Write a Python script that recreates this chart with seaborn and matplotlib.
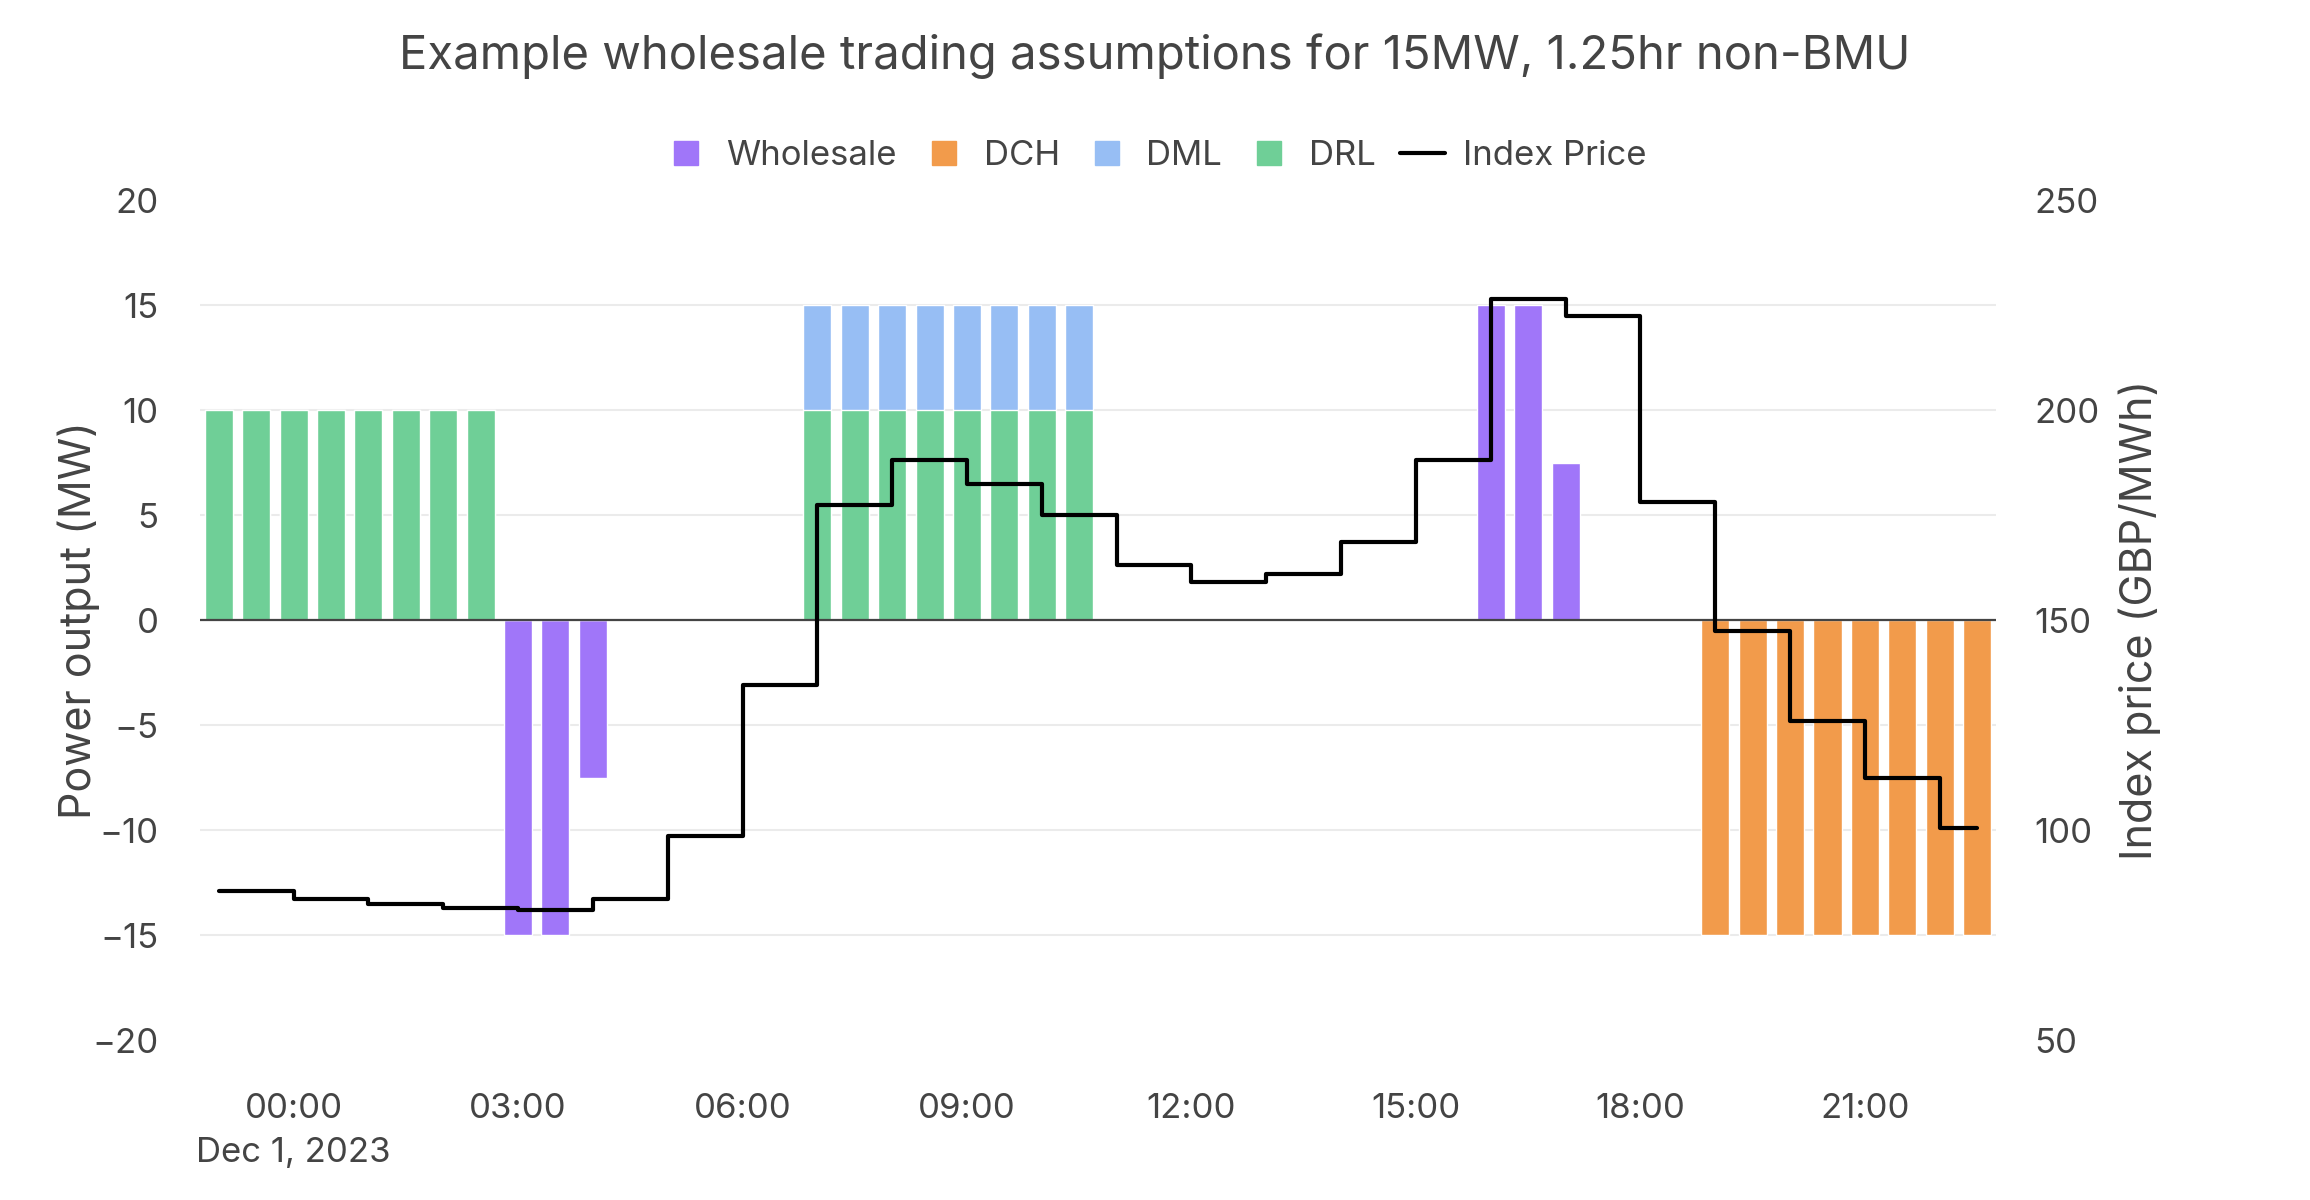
import pandas as pd
import matplotlib
matplotlib.use("Agg")
import matplotlib.pyplot as plt
import seaborn as sns
from matplotlib.lines import Line2D

# Half-hourly settlement periods: 23:00 on 30 Nov through 22:30 on 1 Dec
periods = pd.date_range("2023-11-30 23:00", periods=48, freq="30min")

# Power output per period (MW)
drl = [10] * 8 + [0] * 8 + [10] * 8 + [0] * 24
dml = [0] * 16 + [5] * 8 + [0] * 24
wholesale = [0] * 8 + [-15, -15, -7.5] + [0] * 23 + [15, 15, 7.5] + [0] * 11
dch = [0] * 40 + [-15] * 8

# Index price, one value per hour starting 23:00 (GBP/MWh)
hourly_price = [85.5, 83.5, 82.5, 81.5, 81, 83.5, 98.5, 134.5, 177.5, 188, 182.5, 175,
                163, 159, 161, 168.5, 188, 226.5, 222.5, 178, 147.5, 126, 112.5, 100.5]

colors = {"Wholesale": "#A076F9", "DCH": "#F29B4B", "DML": "#97BEF4", "DRL": "#6FCF97"}
text_col = "#444444"


def main():
    sns.set_theme(style="white")
    plt.rcParams["font.family"] = ["Inter", "DejaVu Sans"]

    idx = list(range(len(periods)))
    price = [p for p in hourly_price for _ in range(2)]
    stacked = [a + b for a, b in zip(drl, dml)]

    fig, ax = plt.subplots(figsize=(23.1, 12), dpi=100)
    fig.subplots_adjust(left=0.0866, right=0.864, top=0.8333, bottom=0.1333)

    # bars (DML stacked on top of DRL)
    sns.barplot(x=idx, y=stacked, color=colors["DML"], width=0.75, errorbar=None,
                saturation=1, ax=ax, zorder=2)
    sns.barplot(x=idx, y=drl, color=colors["DRL"], width=0.75, errorbar=None,
                saturation=1, ax=ax, zorder=2)
    sns.barplot(x=idx, y=wholesale, color=colors["Wholesale"], width=0.75, errorbar=None,
                saturation=1, ax=ax, zorder=2)
    sns.barplot(x=idx, y=dch, color=colors["DCH"], width=0.75, errorbar=None,
                saturation=1, ax=ax, zorder=2)

    ax.set_ylim(-20, 20)
    ax.set_yticks(range(-20, 21, 5))
    ax.grid(axis="y", color="#ebebeb", lw=1.5, zorder=0)
    gl = ax.yaxis.get_gridlines()
    gl[0].set_visible(False)
    gl[-1].set_visible(False)
    ax.set_axisbelow(True)
    ax.axhline(0, color=text_col, lw=1.6, zorder=3)

    # price on the right axis
    ax2 = ax.twinx()
    sns.lineplot(x=idx, y=price, drawstyle="steps-post", color="black", lw=3,
                 ax=ax2, zorder=4)
    ax2.set_ylim(50, 250)
    ax2.set_yticks(range(50, 251, 50))

    ax.set_xlim(-0.5, len(idx) - 0.5)
    tick_pos = [i for i, t in enumerate(periods) if t.minute == 0 and t.hour % 3 == 0]
    tick_lab = [periods[i].strftime("%H:%M") for i in tick_pos]
    first = periods[tick_pos[0]]
    tick_lab[0] = tick_lab[0] + "\n" + first.strftime("%b ") + str(first.day) + first.strftime(", %Y")
    ax.set_xticks(tick_pos)
    ax.set_xticklabels(tick_lab)
    for lab in ax.get_xticklabels():
        lab.set_linespacing(1.5)
        lab.set_verticalalignment("top")

    for a in (ax, ax2):
        for s in a.spines.values():
            s.set_visible(False)
        a.tick_params(length=0, labelsize=25, labelcolor=text_col)
    ax.tick_params(axis="y", pad=30)
    ax2.tick_params(axis="y", pad=28)
    ax.tick_params(axis="x", pad=38)

    ax.set_xlabel("")
    ax.set_ylabel("Power output (MW)", fontsize=31, color=text_col, labelpad=-6)
    ax2.set_ylabel("Index price (GBP/MWh)", fontsize=31, color=text_col, labelpad=13)

    fig.suptitle("Example wholesale trading assumptions for 15MW, 1.25hr non-BMU",
                 x=0.5, y=0.953, va="center", fontsize=34, color=text_col)

    handles = [Line2D([], [], ls="none", marker="s", markersize=17, color=colors[k])
               for k in ["Wholesale", "DCH", "DML", "DRL"]]
    handles.append(Line2D([], [], color="black", lw=3))
    fig.legend(handles, ["Wholesale", "DCH", "DML", "DRL", "Index Price"],
               loc="center", bbox_to_anchor=(0.5, 0.870), ncol=5, frameon=False,
               fontsize=25, labelcolor=text_col, handlelength=1.3, handletextpad=0.5,
               columnspacing=0.7)

    fig.savefig("out.png", dpi=100)


if __name__ == "__main__":
    main()
